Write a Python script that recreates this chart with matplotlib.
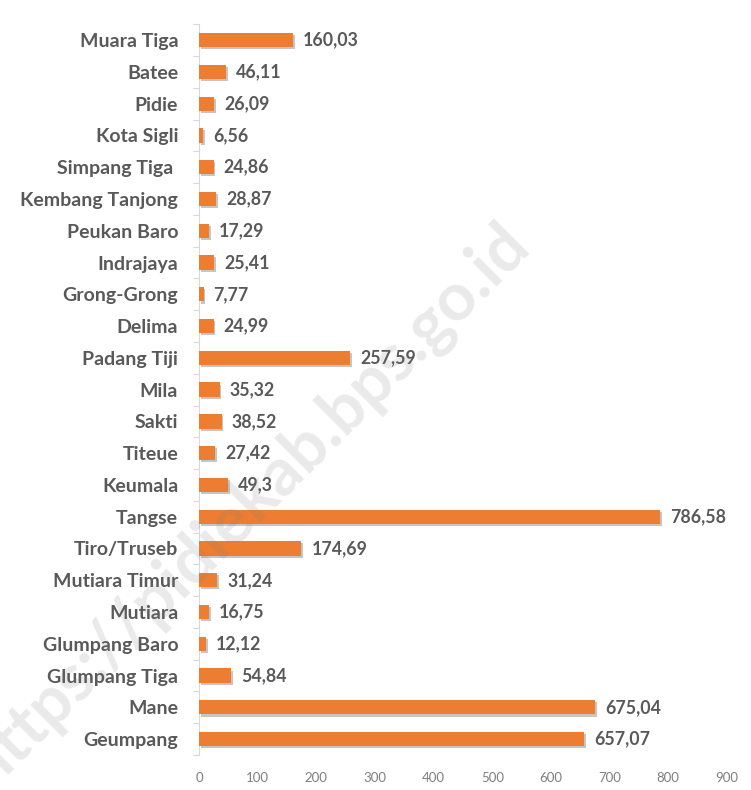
import matplotlib
matplotlib.use("Agg")
import matplotlib.pyplot as plt
import matplotlib.patheffects as pe
import numpy as np

# kecamatan, urut dari atas ke bawah
kecamatan = ["Muara Tiga", "Batee", "Pidie", "Kota Sigli", "Simpang Tiga ",
             "Kembang Tanjong", "Peukan Baro", "Indrajaya", "Grong-Grong",
             "Delima", "Padang Tiji", "Mila", "Sakti", "Titeue", "Keumala",
             "Tangse", "Tiro/Truseb", "Mutiara Timur", "Mutiara",
             "Glumpang Baro", "Glumpang Tiga", "Mane", "Geumpang"]
luas = [160.03, 46.11, 26.09, 6.56, 24.86, 28.87, 17.29, 25.41, 7.77,
        24.99, 257.59, 35.32, 38.52, 27.42, 49.3, 786.58, 174.69, 31.24,
        16.75, 12.12, 54.84, 675.04, 657.07]
label_luas = ["160,03", "46,11", "26,09", "6,56", "24,86", "28,87", "17,29",
              "25,41", "7,77", "24,99", "257,59", "35,32", "38,52", "27,42",
              "49,3", "786,58", "174,69", "31,24", "16,75", "12,12", "54,84",
              "675,04", "657,07"]
xticks = [0, 100, 200, 300, 400, 500, 600, 700, 800, 900]

plt.rcParams['font.family'] = ['Lato', 'DejaVu Sans']

fig = plt.figure(figsize=(7.51, 7.90), dpi=100)
ax = fig.add_axes([0.265, 0.0443, 0.703, 0.925])

y = np.arange(len(kecamatan))
bars = ax.barh(y, luas, height=0.45, color="#ED7D31", zorder=3)
for b in bars:
    b.set_path_effects([pe.SimplePatchShadow(offset=(1.2, -1.5), shadow_rgbFace="#808080", alpha=0.45),
                        pe.Normal()])

for yi, v, txt in zip(y, luas, label_luas):
    ax.text(v + 17, yi, txt, va="center", ha="left", fontsize=12.8,
            fontweight="bold", color="#595959", zorder=4)

ax.set_xlim(0, 900)
ax.set_ylim(len(kecamatan) - 0.5, -0.5)
ax.set_xticks(xticks)
ax.set_xticklabels([str(t) for t in xticks], fontsize=9.5, color="#7f7f7f")
ax.set_yticks(y)
ax.set_yticklabels(kecamatan, fontsize=14, fontweight="bold", color="#595959")
ax.set_yticks(np.arange(-0.5, len(kecamatan), 1), minor=True)
ax.tick_params(axis="y", which="major", length=0, pad=15)
ax.tick_params(axis="y", which="minor", length=4, color="#d9d9d9", width=0.8)
ax.tick_params(axis="x", length=0, pad=12)

for s in ["top", "right", "bottom"]:
    ax.spines[s].set_visible(False)
ax.spines["left"].set_color("#d9d9d9")
ax.spines["left"].set_linewidth(0.8)

# watermark (terpotong di pojok kiri bawah seperti aslinya)
fig.text(0.33, 0.36, "https://pidiekab.bps.go.id", rotation=45, fontsize=48,
         fontweight="bold", color="#7f7f7f", alpha=0.16, ha="center", va="center",
         zorder=10)

fig.savefig("out.png", dpi=100)
